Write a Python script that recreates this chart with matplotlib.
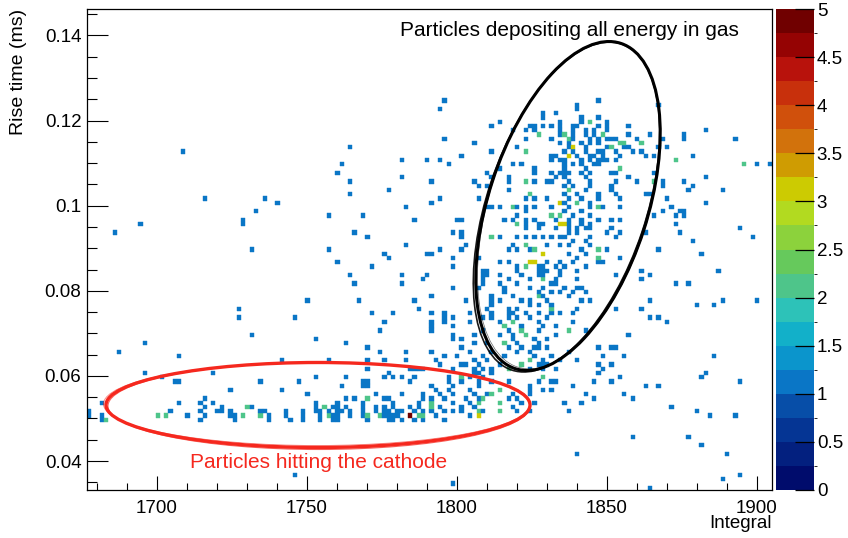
import numpy as np
import matplotlib
matplotlib.use('Agg')
import matplotlib.pyplot as plt
import matplotlib.transforms as mtransforms
from matplotlib.colors import ListedColormap, BoundaryNorm
from matplotlib.patches import Ellipse
from matplotlib.ticker import MultipleLocator, FuncFormatter

plt.rcParams['font.family'] = ['Liberation Sans', 'DejaVu Sans']

# ---- histogram contents ----
# cells holding 1 entry, grouped by rise-time row (ms) -> integral values
row_rise = [0.034, 0.035, 0.036, 0.037, 0.042, 0.044, 0.046,
            0.050, 0.051, 0.052, 0.053, 0.054, 0.055, 0.056, 0.057, 0.058, 0.059,
            0.060, 0.061, 0.062, 0.063, 0.064, 0.065, 0.066, 0.067, 0.068, 0.069,
            0.070, 0.071, 0.072, 0.073, 0.074, 0.075, 0.076, 0.077, 0.078, 0.079,
            0.080, 0.081, 0.082, 0.083, 0.084, 0.085, 0.086, 0.087, 0.088, 0.089,
            0.090, 0.091, 0.092, 0.093, 0.094, 0.095, 0.096, 0.097, 0.098, 0.099,
            0.100, 0.101, 0.102, 0.103, 0.104, 0.105, 0.106, 0.107, 0.108, 0.109,
            0.110, 0.111, 0.112, 0.113, 0.114, 0.115, 0.116, 0.117, 0.118, 0.119,
            0.120, 0.121, 0.122, 0.123, 0.124, 0.125]
row_integral = [
    [1864.0], [1798.6], [1888.0], [1746.6, 1894.3], [1840.1, 1890.4], [1881.6], [1859.0, 1876.5],
    [1681.2, 1713.9, 1726.6, 1736.7, 1743.9, 1749.4, 1754.1, 1758.1, 1759.4, 1760.7, 1770.7,
     1777.0, 1779.4, 1781.9, 1785.8, 1788.3, 1796.0],
    [1677.6, 1681.2, 1710.1, 1716.4, 1725.2, 1726.6, 1736.7, 1742.8, 1749.4, 1754.1, 1758.1,
     1760.6, 1764.3, 1768.1, 1775.8, 1777.3, 1779.4, 1780.8, 1793.2, 1804.3, 1884.2, 1892.9],
    [1677.6, 1703.9, 1713.9, 1720.2, 1721.6, 1723.9, 1725.2, 1734.1, 1735.9, 1742.8, 1748.3,
     1753.0, 1754.3, 1756.8, 1760.6, 1761.9, 1764.3, 1768.1, 1773.2, 1775.8, 1777.1, 1780.8,
     1782.2, 1785.8, 1789.4, 1792.0, 1796.0, 1798.2, 1801.0, 1809.3, 1819.9, 1824.3, 1837.7, 1880.4],
    [1716.4, 1721.6, 1731.6, 1753.0, 1759.3, 1760.6, 1763.1, 1768.1, 1773.2, 1775.8, 1779.4,
     1784.6, 1787.0, 1794.3, 1802.1, 1805.4, 1818.8, 1871.5],
    [1682.4, 1707.7, 1713.9, 1718.9, 1753.0, 1760.6, 1768.1, 1778.1, 1787.0, 1792.0, 1799.3,
     1804.3, 1821.0, 1825.4, 1836.0, 1841.3],
    [1716.4, 1763.0, 1765.6, 1775.8, 1777.1, 1789.4, 1792.0, 1796.0, 1803.2, 1806.6, 1816.6,
     1820.4, 1845.1, 1858.8],
    [1750.6, 1773.2, 1781.0, 1789.4, 1794.3, 1798.2, 1805.4, 1810.4, 1818.8, 1824.3, 1842.7, 1855.2],
    [1724.1, 1741.6, 1793.2, 1797.1, 1804.3, 1824.3, 1828.8, 1831.6],
    [1761.9, 1768.1, 1770.7, 1792.1, 1799.3, 1806.6, 1824.3, 1838.8, 1862.7, 1866.6],
    [1706.3, 1707.7, 1734.1, 1746.7, 1768.1, 1770.7, 1784.6, 1797.1, 1802.1, 1806.6, 1812.1,
     1817.7, 1827.7, 1831.0, 1833.2, 1845.1, 1851.6, 1894.3],
    [1701.3, 1753.0, 1763.0, 1775.6, 1778.1, 1781.9, 1785.8, 1797.1, 1804.3, 1808.8, 1853.8, 1881.6],
    [1696.2, 1718.9, 1776.9, 1805.4, 1807.7, 1812.1, 1846.6, 1882.9],
    [1770.7, 1784.4, 1785.8, 1787.1, 1789.4, 1798.2, 1805.4, 1809.3, 1811.6, 1824.3, 1828.8,
     1832.7, 1849.1],
    [1794.3, 1801.0, 1802.3, 1807.7, 1814.3, 1826.6, 1829.3, 1830.6, 1846.6, 1851.6],
    [1741.7, 1756.8, 1770.7, 1775.8, 1783.1, 1793.1, 1805.4, 1810.4, 1829.3, 1833.8, 1840.1],
    [1707.7, 1796.0, 1800.4, 1808.8, 1815.4, 1825.4, 1832.1, 1849.1, 1855.2, 1885.4],
    [1687.4, 1774.4, 1783.1, 1792.0, 1804.3, 1812.1, 1819.9, 1824.3, 1837.7],
    [1770.7, 1802.1, 1817.7, 1821.0, 1825.4, 1826.8, 1829.9, 1846.6, 1851.6, 1852.9],
    [1696.2, 1763.0, 1805.4, 1810.4, 1820.4, 1826.6],
    [1753.0, 1798.2, 1802.1, 1818.8, 1825.4, 1829.9],
    [1731.6, 1798.2, 1805.4, 1814.3, 1818.8, 1833.2, 1857.7],
    [1774.4, 1792.0, 1809.3, 1817.7, 1826.6, 1842.7],
    [1792.1, 1799.3, 1822.1, 1829.3, 1833.2],
    [1775.8, 1790.9, 1796.0, 1804.3, 1814.3, 1827.7, 1838.8, 1870.4],
    [1727.7, 1745.4, 1796.0, 1799.3, 1809.3, 1812.1, 1816.6, 1820.4, 1824.3, 1830.4, 1864.0, 1866.6],
    [1772.0, 1778.3, 1790.9, 1796.0, 1804.3, 1811.6, 1817.7, 1819.3, 1823.2, 1826.6, 1831.0,
     1833.8, 1838.8],
    [1727.7, 1787.0, 1810.4, 1816.6, 1820.4, 1840.1, 1852.7, 1861.6],
    [1812.1, 1824.3, 1827.7, 1831.6, 1880.4, 1885.4],
    [1750.6, 1767.0, 1785.8, 1803.0, 1811.6, 1814.3, 1821.6, 1824.3, 1830.4, 1841.3, 1843.8,
     1864.0, 1889.1, 1900.6],
    [1792.1, 1812.1, 1818.8, 1829.3, 1837.7],
    [1816.0, 1827.1, 1831.0, 1834.3, 1838.8, 1842.7],
    [1798.2, 1807.7, 1816.0, 1824.3, 1828.2, 1836.0, 1840.1, 1841.4],
    [1765.7, 1781.0, 1808.2, 1814.3, 1819.9, 1831.6, 1833.2, 1872.7, 1876.6],
    [1788.3, 1808.8, 1817.7, 1824.3, 1833.0, 1840.1, 1861.6],
    [1764.3, 1782.1, 1790.6, 1808.8, 1810.4, 1814.3, 1822.1, 1827.7, 1829.3, 1834.3, 1852.7, 1864.0],
    [1808.8, 1810.4, 1820.4, 1826.6, 1828.8, 1830.4, 1834.3, 1840.1, 1861.6, 1887.7],
    [1771.0, 1798.2, 1820.4, 1826.6, 1828.8, 1833.0, 1836.0, 1842.7],
    [1760.0, 1814.3, 1817.1, 1830.4, 1833.8, 1838.8, 1847.7, 1849.1],
    [1778.0, 1798.2, 1807.7, 1840.1, 1853.8],
    [1776.0, 1789.7, 1792.1, 1837.1, 1842.7, 1881.7],
    [1731.6, 1758.0, 1794.7, 1801.0, 1817.7, 1819.9, 1823.8, 1841.0, 1850.4, 1866.6],
    [1783.0, 1803.4, 1818.8, 1829.9, 1833.8, 1837.7, 1843.8],
    [1838.8, 1842.7, 1878.7],
    [1770.0, 1802.1, 1813.8, 1819.9, 1823.2, 1826.3, 1828.8, 1831.0, 1833.8, 1836.0, 1844.9,
     1852.7, 1898.3],
    [1686.2, 1766.0, 1798.6, 1801.0, 1837.7, 1839.9, 1849.9, 1854.9, 1862.7, 1874.1],
    [1823.2, 1826.6, 1832.3, 1837.1, 1839.9, 1842.7, 1844.9, 1851.6, 1895.0],
    [1695.0, 1729.1, 1823.2, 1826.6, 1828.8, 1837.1, 1841.6, 1843.8, 1872.7],
    [1729.1, 1786.0, 1799.9, 1801.2, 1815.4, 1818.8, 1822.3, 1825.4, 1832.3, 1837.1, 1841.0,
     1847.7, 1851.6, 1854.9],
    [1757.0, 1769.0, 1819.9, 1838.8, 1843.8, 1865.4, 1872.3, 1873.6, 1876.2],
    [1732.9, 1823.2, 1836.0, 1841.0, 1868.8, 1873.8, 1875.4],
    [1783.2, 1809.7, 1812.1, 1814.7, 1819.9, 1823.2, 1826.3, 1831.0, 1837.7, 1843.8, 1848.8,
     1853.8, 1871.6],
    [1740.4, 1792.1, 1835.4, 1843.8, 1882.7],
    [1716.4, 1736.6, 1794.7, 1807.4, 1823.2, 1826.3, 1829.9, 1837.7, 1841.6, 1847.7, 1853.8, 1870.2],
    [1764.6, 1836.0, 1839.9, 1846.6, 1852.7, 1862.7, 1863.9],
    [1778.0, 1817.4, 1842.7, 1851.0, 1876.6, 1888.7],
    [1807.4, 1809.7, 1836.0, 1838.8, 1844.9, 1852.1, 1868.8, 1878.8],
    [1765.0, 1791.0, 1806.0, 1817.4, 1826.3, 1829.9, 1831.2, 1837.7, 1843.8, 1852.7, 1859.9,
     1868.8, 1875.4],
    [1781.6, 1812.1, 1817.4, 1832.3, 1836.0, 1842.7, 1856.6, 1883.0],
    [1760.0, 1809.7, 1826.3, 1831.0, 1833.8, 1835.4, 1837.7, 1841.0, 1843.8, 1851.0, 1852.7, 1865.4],
    [1814.7, 1825.4, 1836.0, 1842.7],
    [1761.0, 1797.1, 1818.2, 1821.0, 1835.4, 1838.8, 1841.6, 1845.4, 1847.7, 1900.0, 1903.7],
    [1781.0, 1789.7, 1794.7, 1831.0, 1833.8, 1836.0, 1841.0, 1843.8, 1846.6, 1848.8, 1850.4, 1853.2],
    [1801.0, 1831.0, 1832.3, 1839.9, 1843.8, 1845.4, 1849.3, 1853.8, 1862.7, 1865.4, 1878.0],
    [1708.8, 1811.0, 1835.4, 1839.3, 1842.7, 1846.6, 1848.2, 1852.7, 1858.8, 1861.6],
    [1764.0, 1820.4, 1837.7, 1842.7, 1849.9, 1855.4, 1857.1, 1866.6, 1870.4],
    [1806.0, 1833.8, 1837.7, 1841.0, 1843.8, 1846.6],
    [1796.0, 1822.3, 1831.0, 1839.3, 1843.8, 1846.6, 1847.7, 1849.9, 1851.6, 1852.7, 1860.4,
     1868.2, 1875.4, 1892.7],
    [1833.8, 1839.3, 1842.7, 1845.4, 1856.6, 1857.9, 1863.8, 1875.4],
    [1818.6, 1823.2, 1826.3, 1833.8, 1838.2, 1842.7, 1845.4, 1850.4, 1883.3],
    [1811.0, 1823.8, 1825.4, 1828.6, 1831.3, 1833.8, 1838.2, 1839.9, 1847.7, 1849.9, 1856.6],
    [1814.7, 1834.9, 1841.3, 1849.9],
    [1828.6, 1841.3, 1847.7],
    [1828.0, 1832.4],
    [1794.7, 1840.1],
    [1840.1, 1866.6],
    [1796.0, 1847.7],
]

# cells holding 2 entries
green_integral = [1683.7, 1700.0, 1702.7, 1729.0, 1730.3, 1734.1, 1755.6, 1756.8, 1770.7, 1774.4,
                  1787.0, 1789.4, 1790.9, 1770.7, 1790.9,
                  1823.2, 1828.8, 1826.6, 1831.0, 1818.2, 1816.0, 1822.1, 1823.2, 1816.0, 1824.3,
                  1821.0, 1817.7, 1801.0, 1828.8, 1814.3, 1812.1, 1809.3, 1792.1, 1807.7, 1813.8,
                  1807.1, 1814.3,
                  1827.4, 1822.3, 1822.3, 1823.8, 1818.8, 1831.0, 1833.8, 1819.9, 1811.0, 1822.3,
                  1826.3,
                  1843.8, 1836.0, 1848.8, 1837.7, 1853.8, 1855.4, 1861.6, 1851.6, 1872.7, 1854.9,
                  1865.4, 1837.7, 1839.9, 1846.6, 1847.7, 1846.6, 1837.7, 1896.0]
green_rise = [0.050, 0.051, 0.051, 0.051, 0.053, 0.051, 0.053, 0.051, 0.051, 0.051,
              0.051, 0.051, 0.053, 0.055, 0.054,
              0.086, 0.083, 0.079, 0.076, 0.073, 0.072, 0.071, 0.070, 0.068, 0.064,
              0.063, 0.062, 0.060, 0.060, 0.057, 0.056, 0.055, 0.054, 0.054, 0.054,
              0.052, 0.052,
              0.117, 0.113, 0.106, 0.103, 0.100, 0.098, 0.098, 0.096, 0.093, 0.091,
              0.090,
              0.120, 0.117, 0.117, 0.116, 0.115, 0.115, 0.115, 0.114, 0.111, 0.109,
              0.106, 0.104, 0.101, 0.100, 0.090, 0.088, 0.071, 0.110]

# cells holding 3 entries
yellow_integral = [1839.3, 1837.7, 1833.8, 1834.0, 1835.3, 1828.6, 1824.3, 1825.6, 1807.1]
yellow_rise = [0.114, 0.112, 0.101, 0.096, 0.096, 0.089, 0.087, 0.087, 0.051]

# cell holding 5 entries
max_integral = [1784.6]
max_rise = [0.051]

# ---- binning ----
x_edges = np.linspace(1676.7, 1905.0, 161)
y_edges = np.linspace(0.0332, 0.1462, 114)

integral, rise, content = [], [], []
for r, xs in zip(row_rise, row_integral):
    integral += xs
    rise += [r] * len(xs)
    content += [1] * len(xs)
for xs, ys, c in [(green_integral, green_rise, 2), (yellow_integral, yellow_rise, 3),
                  (max_integral, max_rise, 5)]:
    integral += xs
    rise += ys
    content += [c] * len(xs)

H = np.zeros((len(x_edges) - 1, len(y_edges) - 1))
ix = np.searchsorted(x_edges, integral, side='right') - 1
iy = np.searchsorted(y_edges, rise, side='right') - 1
for i, j, c in zip(ix, iy, content):
    H[i, j] = max(H[i, j], c)
H = np.ma.masked_equal(H, 0)

# ROOT-like 20-level palette
palette = ['#000c6c', '#03207f', '#053594', '#074ea8', '#0a76c6', '#0b95cc', '#12b0c9',
           '#2dc2b8', '#4ec58a', '#66c95c', '#8cd23c', '#b2da20', '#cccb02', '#cf9c02',
           '#d2720c', '#d0500c', '#c8300c', '#b8120c', '#950303', '#700000']
levels = np.linspace(0, 5, 21)
cmap = ListedColormap(palette)
cmap.set_over(palette[-1])
norm = BoundaryNorm(levels, cmap.N)

# ---- figure ----
W, Hpx = 848, 538
fig = plt.figure(figsize=(W / 100, Hpx / 100), dpi=100)
ax = fig.add_axes([87 / W, 1 - 490 / Hpx, 685 / W, 481 / Hpx])
cax = fig.add_axes([776 / W, 1 - 490 / Hpx, 38 / W, 481 / Hpx])

mesh = ax.pcolormesh(x_edges, y_edges, H.T, cmap=cmap, norm=norm,
                     edgecolors='face', linewidth=0.3, antialiased=True)

ax.set_xlim(x_edges[0], x_edges[-1])
ax.set_ylim(y_edges[0], y_edges[-1])
ax.xaxis.set_major_locator(MultipleLocator(50))
ax.xaxis.set_minor_locator(MultipleLocator(10))
ax.yaxis.set_major_locator(MultipleLocator(0.02))
ax.yaxis.set_minor_locator(MultipleLocator(0.005))
ax.yaxis.set_major_formatter(FuncFormatter(lambda v, p: f'{v:g}'))
ax.tick_params(axis='x', which='major', direction='in', length=10, width=0.8,
               labelsize=13.5, pad=7)
ax.tick_params(axis='x', which='minor', direction='in', length=5, width=0.8)
ax.tick_params(axis='y', which='major', direction='in', length=15, width=0.8,
               labelsize=13.5, pad=4)
ax.tick_params(axis='y', which='minor', direction='in', length=7.5, width=0.8)
for s in ax.spines.values():
    s.set_linewidth(0.9)

cbar = fig.colorbar(mesh, cax=cax, ticks=np.arange(0, 5.01, 0.5))
cbar.outline.set_visible(False)
cax.yaxis.set_major_formatter(FuncFormatter(lambda v, p: f'{v:g}'))
cax.tick_params(direction='in', length=14, width=0.9, labelsize=13.5, pad=2)

fig.text(19 / W, 1 - 9 / Hpx, 'Rise time (ms)', rotation=90, ha='center', va='top',
         fontsize=14)
fig.text(772 / W, 1 - 524 / Hpx, 'Integral', ha='right', va='center', fontsize=13.5)

ax.text(0.457, 0.956, 'Particles depositing all energy in gas', transform=ax.transAxes,
        ha='left', va='center', fontsize=15, color='black')
ax.text(0.150, 0.058, 'Particles hitting the cathode', transform=ax.transAxes,
        ha='left', va='center', fontsize=15, color='#f5281e')

# hand-drawn style ellipses (figure pixel coordinates, y down)
px = mtransforms.Affine2D().scale(1 / W, -1 / Hpx).translate(0, 1) + fig.transFigure
for dx, dy, dw, da, lw, al in [(0, 0, 0, 0, 2.2, 1.0), (-1.5, 1.0, 2, 0.6, 1.2, 0.9),
                               (1.0, -1.0, -2, -0.5, 0.5, 0.6)]:
    ax.add_patch(Ellipse((568 + dx, 206 + dy), 342 + dw, 159, angle=-72 + da,
                         transform=px, fill=False, ec='black', lw=lw, alpha=al,
                         clip_on=False, zorder=5))
for dx, dy, dw, dh, lw, al in [(0, 0, 0, 0, 2.4, 1.0), (1, 1, -2, 2, 0.8, 0.7),
                               (-1, -1, 3, -2, 0.6, 0.6)]:
    ax.add_patch(Ellipse((318 + dx, 405 + dy), 424 + dw, 85 + dh, angle=0,
                         transform=px, fill=False, ec='#f5281e', lw=lw, alpha=al,
                         clip_on=False, zorder=5))

fig.savefig('out.png', dpi=100)
